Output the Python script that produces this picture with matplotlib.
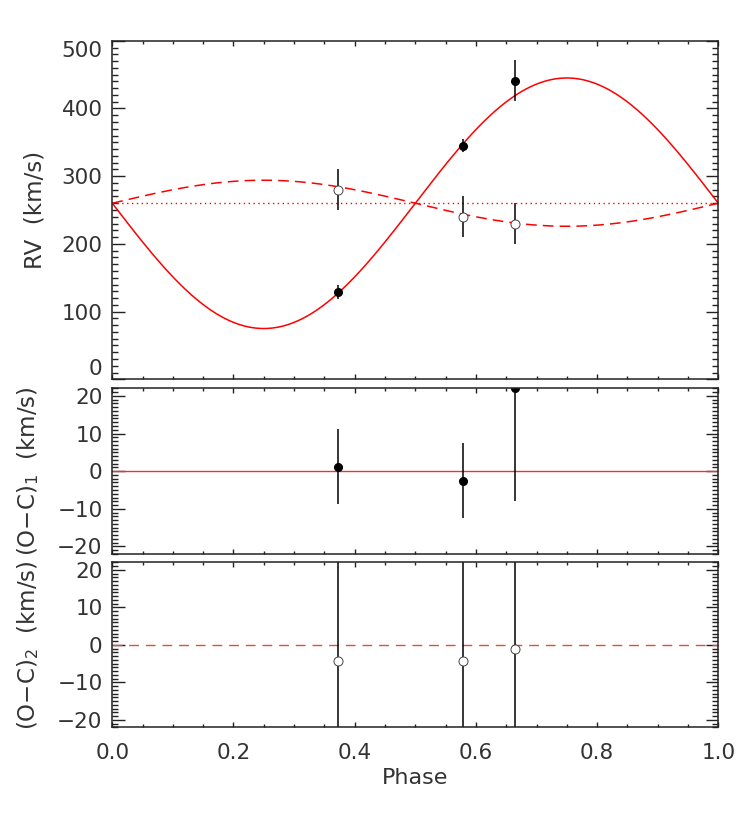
import numpy as np
import matplotlib
matplotlib.use("Agg")
import matplotlib.pyplot as plt
from matplotlib.ticker import MultipleLocator

# observed phases and radial velocities
phase = [0.373, 0.579, 0.664]
rv1 = [129, 345, 441]
rv1_err = [10, 10, 30]
rv2 = [280, 240, 230]
rv2_err = [30, 30, 30]

# residuals
oc1 = [1.2, -2.5, 22.0]
oc1_err = [10, 10, 30]
oc2 = [-4.3, -4.2, -1.2]
oc2_err = [30, 30, 30]

# orbit solution
gamma = 260.0
K1 = 185.0
K2 = 34.0

plt.rcParams['font.family'] = ['DejaVu Sans']
plt.rcParams['mathtext.fontset'] = 'dejavusans'
plt.rcParams['font.size'] = 15.5
TXT = '#333333'

fig = plt.figure(figsize=(7.47, 8.18), dpi=100)
L, R = 0.1503, 0.9616
ax1 = fig.add_axes([L, 0.5363, R - L, 0.9502 - 0.5363])
ax2 = fig.add_axes([L, 0.3227, R - L, 0.5253 - 0.3227])
ax3 = fig.add_axes([L, 0.1109, R - L, 0.3126 - 0.1109])

ph = np.linspace(0, 1, 500)
v1 = gamma - K1 * np.sin(2 * np.pi * ph)
v2 = gamma + K2 * np.sin(2 * np.pi * ph)

ax1.plot(ph, v1, color='red', lw=1.1)
ax1.plot(ph, v2, color='red', lw=1.1, dashes=(7, 4))
ax1.axhline(gamma, color='red', lw=1.0, dashes=(1, 2.5))
ax1.errorbar(phase, rv1, yerr=rv1_err, fmt='o', ms=5.5, color='black', ecolor='black', elinewidth=1.1, capsize=0)
ax1.errorbar(phase, rv2, yerr=rv2_err, fmt='o', ms=6.5, mfc='white', mec='#444444', mew=0.7,
             ecolor='black', elinewidth=1.1, capsize=0)
ax1.set_ylim(0, 500)
ax1.set_ylabel('RV  (km/s)', color=TXT, fontsize=16.5)

ax2.axhline(0, color='#ee3333', lw=1.0)
ax2.errorbar(phase, oc1, yerr=oc1_err, fmt='o', ms=5.5, color='black', ecolor='black', elinewidth=1.1, capsize=0)
ax2.set_ylim(-22, 22)
ax2.set_ylabel('(O\u2212C)$_1$  (km/s)', color=TXT, fontsize=16.5)

ax3.axhline(0, color='#ee4444', lw=1.0, dashes=(7, 5))
ax3.errorbar(phase, oc2, yerr=oc2_err, fmt='o', ms=6.5, mfc='white', mec='#444444', mew=0.7,
             ecolor='black', elinewidth=1.1, capsize=0)
ax3.set_ylim(-22, 22)
ax3.set_ylabel('(O\u2212C)$_2$  (km/s)', color=TXT, fontsize=16.5)
ax3.set_xlabel('Phase', color=TXT, fontsize=16, labelpad=4)

for ax in (ax1, ax2, ax3):
    ax.set_xlim(0, 1)
    ax.xaxis.set_major_locator(MultipleLocator(0.2))
    ax.xaxis.set_minor_locator(MultipleLocator(0.05))
    for s in ax.spines.values():
        s.set_linewidth(1.1)
        s.set_color('#222222')
    ax.tick_params(which='both', direction='in', top=True, right=True, colors='#222222',
                   labelcolor=TXT, width=1.0)
    ax.tick_params(axis='y', which='major', length=9, pad=7)
    ax.tick_params(axis='y', which='minor', length=4.5)
    ax.tick_params(axis='x', which='major', length=3.6, pad=11)
    ax.tick_params(axis='x', which='minor', length=2.2)

ax1.yaxis.set_major_locator(MultipleLocator(100))
ax1.yaxis.set_minor_locator(MultipleLocator(10))
for ax in (ax2, ax3):
    ax.yaxis.set_major_locator(MultipleLocator(10))
    ax.yaxis.set_minor_locator(MultipleLocator(1))
ax1.tick_params(labelbottom=False)
ax2.tick_params(labelbottom=False)

ax1.set_yticks([0, 100, 200, 300, 400, 500])
lbls = ax1.get_yticklabels()
lbls[0].set_va('bottom')
lbls[-1].set_va('top')

ax1.yaxis.set_label_coords(-0.108, 0.5)
ax2.yaxis.set_label_coords(-0.117, 0.5)
ax3.yaxis.set_label_coords(-0.117, 0.5)

fig.savefig('out.png', dpi=100)
